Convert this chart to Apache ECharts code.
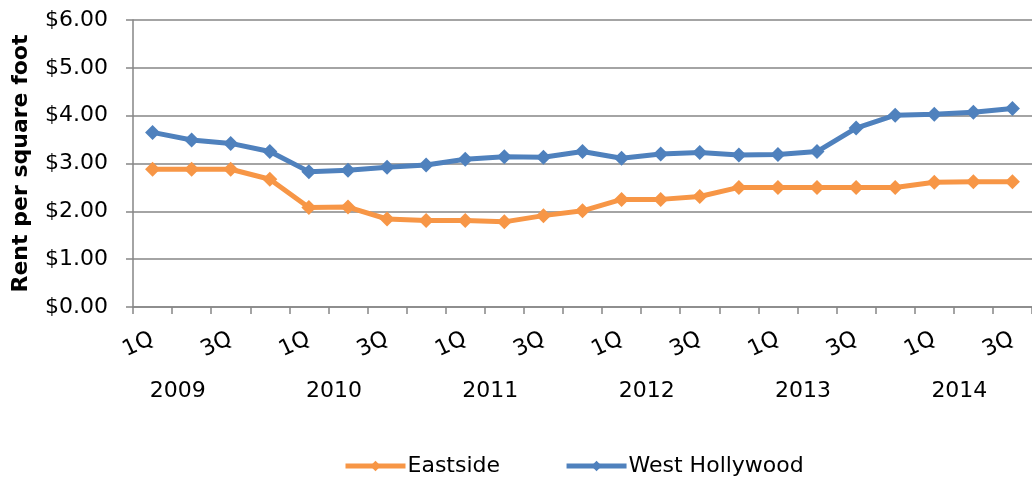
<!DOCTYPE html>
<html>
<head>
<meta charset="utf-8">
<script src="https://cdn.jsdelivr.net/npm/echarts@6/dist/echarts.min.js"></script>
<style>html,body{margin:0;padding:0;background:#fff}#c{width:1032px;height:481px}</style>
</head>
<body>
<div id="c"></div>
<script>
var years = ['2009', '2010', '2011', '2012', '2013', '2014'];
var quarterNames = ['1Q', '2Q', '3Q', '4Q'];
var quarterCount = 23;
var eastside = [2.88, 2.88, 2.88, 2.67, 2.08, 2.09, 1.84, 1.81, 1.81, 1.78, 1.91, 2.01, 2.25, 2.25, 2.31, 2.50, 2.50, 2.50, 2.50, 2.50, 2.61, 2.62, 2.62];
var westHollywood = [3.65, 3.49, 3.42, 3.25, 2.83, 2.86, 2.92, 2.97, 3.09, 3.14, 3.13, 3.25, 3.11, 3.20, 3.23, 3.18, 3.19, 3.25, 3.74, 4.01, 4.03, 4.07, 4.15];
var yTicks = [0, 1, 2, 3, 4, 5, 6];

var quarters = [], yearRow = [];
for (var i = 0; i < quarterCount; i++) {
  quarters.push(quarterNames[i % 4]);
  yearRow.push(i % 4 === 1 ? years[Math.floor(i / 4)] : '');
}

var FONT = 'DejaVu Sans';
var chart = echarts.init(document.getElementById('c'), null, {renderer: 'canvas'});
chart.setOption({
  animation: false,
  backgroundColor: '#fff',
  textStyle: {fontFamily: FONT},
  grid: {left: 133, top: 20, width: 904, height: 287, containLabel: false},
  legend: {
    data: ['Eastside', 'West Hollywood'],
    left: 338, top: 450,
    itemWidth: 60, itemHeight: 13, itemGap: 64,
    lineStyle: {width: 5},
    textStyle: {fontFamily: FONT, fontSize: 22, color: '#000', padding: [0, 0, 0, -3]}
  },
  xAxis: [{
    type: 'category',
    data: quarters,
    boundaryGap: true,
    axisLine: {show: true, lineStyle: {color: '#868686', width: 1.5}},
    axisTick: {show: true, interval: 0, length: 7, lineStyle: {color: '#868686', width: 1.5}},
    axisLabel: {interval: 1, rotate: 25, margin: 31, fontFamily: FONT, fontSize: 22, color: '#000'},
    splitLine: {show: false}
  }, {
    type: 'category',
    data: yearRow,
    position: 'bottom',
    boundaryGap: true,
    axisLine: {show: false},
    axisTick: {show: false},
    axisLabel: {interval: 0, margin: 73, padding: [0, 28, 0, 0], fontFamily: FONT, fontSize: 22, color: '#000'},
    splitLine: {show: false}
  }],
  yAxis: {
    type: 'value',
    min: yTicks[0], max: yTicks[yTicks.length - 1], interval: 1,
    name: 'Rent per square foot',
    nameLocation: 'middle',
    nameGap: 101,
    nameTextStyle: {fontFamily: FONT, fontSize: 22, fontWeight: 'bold', color: '#000'},
    axisLine: {show: true, lineStyle: {color: '#868686', width: 1.5}},
    axisTick: {show: true, length: 7, lineStyle: {color: '#868686', width: 1.5}},
    axisLabel: {margin: 25, fontFamily: FONT, fontSize: 22, color: '#000',
      formatter: function (v) { return '$' + v.toFixed(2); }},
    splitLine: {show: true, lineStyle: {color: '#868686', width: 1.5}}
  },
  series: [{
    name: 'Eastside',
    type: 'line',
    data: eastside,
    symbol: 'diamond',
    symbolSize: 15,
    showAllSymbol: true,
    lineStyle: {color: '#F79646', width: 5},
    itemStyle: {color: '#F79646'}
  }, {
    name: 'West Hollywood',
    type: 'line',
    data: westHollywood,
    symbol: 'diamond',
    symbolSize: 15,
    showAllSymbol: true,
    lineStyle: {color: '#4F81BD', width: 5},
    itemStyle: {color: '#4F81BD'}
  }]
});
</script>
</body>
</html>
